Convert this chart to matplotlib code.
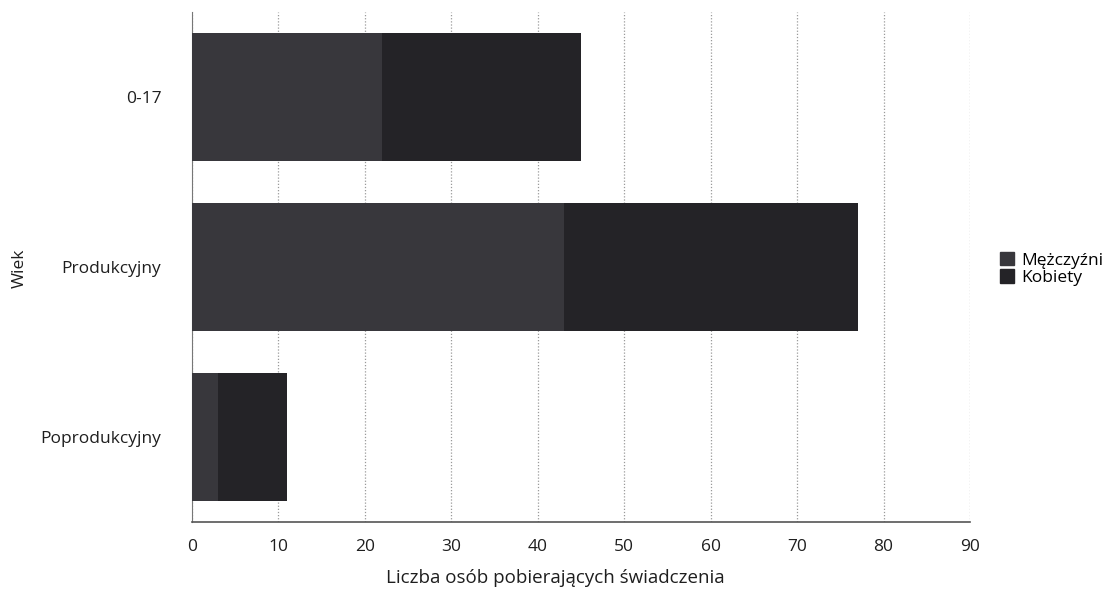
import matplotlib
matplotlib.use("Agg")
import matplotlib.pyplot as plt
from matplotlib.patches import Patch

plt.rcParams['font.family'] = ['Open Sans', 'DejaVu Sans']

categories = ["0-17", "Produkcyjny", "Poprodukcyjny"]
men = [22, 43, 3]
women = [23, 34, 8]
series_names = ["Mężczyźni", "Kobiety"]
xticks = [0, 10, 20, 30, 40, 50, 60, 70, 80, 90]

c_men = "#38373c"
c_women = "#242327"
txt = "#1e1e1e"

fig = plt.figure(figsize=(11.1, 5.9), dpi=100)
ax = fig.add_axes([192/1110, 1 - 522/590, (970-192)/1110, (522-12)/590])

y = list(range(len(categories)))
ax.barh(y, men, height=0.75, color=c_men, zorder=3)
ax.barh(y, women, left=men, height=0.75, color=c_women, zorder=3)

ax.set_ylim(len(categories) - 0.5, -0.5)
ax.set_xlim(0, 90)
ax.set_xticks(xticks)
ax.set_xticklabels([str(t) for t in xticks], fontsize=12.5, color=txt)
ax.set_yticks(y)
ax.set_yticklabels(categories, fontsize=12.5, color=txt)
ax.tick_params(axis='both', length=0)
ax.tick_params(axis='x', pad=12)
ax.tick_params(axis='y', pad=22)

ax.grid(axis='x', linestyle=(0, (1, 1.5)), color="#9a9a9a", linewidth=0.9, zorder=0)
for s in ["top", "right"]:
    ax.spines[s].set_visible(False)
ax.spines["left"].set_color("#777777")
ax.spines["bottom"].set_color("#555555")
ax.spines["bottom"].set_linewidth(1.2)

fig.text(555/1110, 1 - 578/590, "Liczba osób pobierających świadczenia", fontsize=13.5,
         color=txt, ha='center', va='center')
fig.text(20/1110, 1 - 268/590, "Wiek", rotation=90, fontsize=12.5, color=txt,
         ha='center', va='center')

handles = [Patch(color=c_men), Patch(color=c_women)]
fig.legend(handles, series_names, loc='center left', bbox_to_anchor=(993/1110, 1 - 269/590),
           frameon=False, fontsize=12.5, handlelength=0.8, handleheight=0.8,
           handletextpad=0.4, labelspacing=0.05, borderaxespad=0)

fig.savefig("out.png", dpi=100)
